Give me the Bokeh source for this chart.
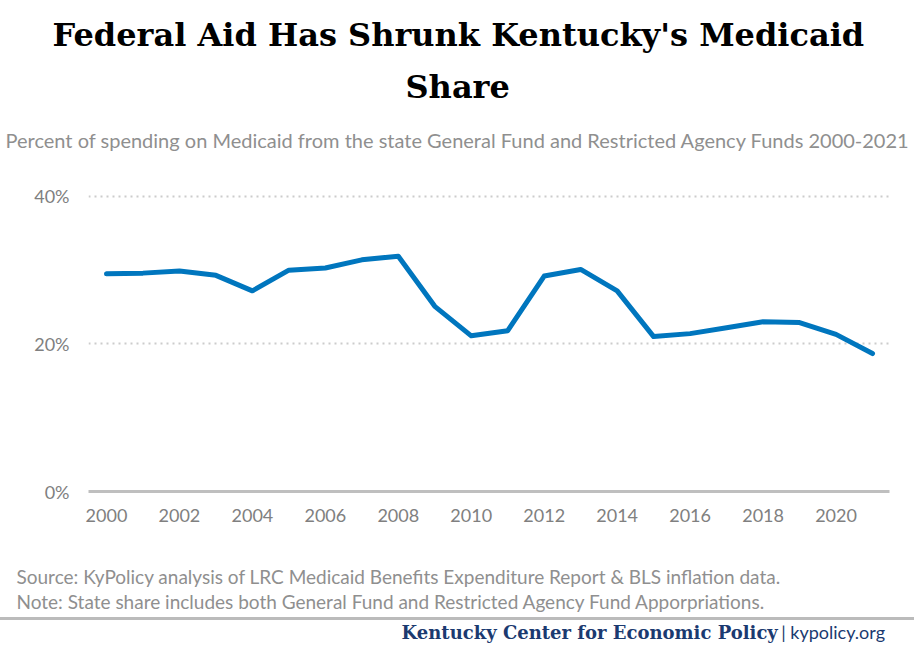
from bokeh.plotting import figure
from bokeh.models import FixedTicker, PrintfTickFormatter, Range1d, Title, Div
from bokeh.layouts import column
from bokeh.embed import file_html
from bokeh.resources import INLINE

# ---- data ----
years = list(range(2000, 2022))
share = [29.5, 29.6, 29.9, 29.3, 27.2, 30.0, 30.3, 31.4, 31.9, 25.1, 21.1,
         21.8, 29.2, 30.1, 27.2, 21.0, 21.4, 22.2, 23.0, 22.9, 21.3, 18.7]
x_ticks = list(range(2000, 2021, 2))
y_ticks = [0, 20, 40]

title_line1 = "Federal Aid Has Shrunk Kentucky's Medicaid"
title_line2 = "Share"
subtitle = "Percent of spending on Medicaid from the state General Fund and Restricted Agency Funds  2000-2021"
source = "Source: KyPolicy analysis of LRC Medicaid Benefits Expenditure Report & BLS inflation data."
note = "Note: State share includes both General Fund and Restricted Agency Fund Apporpriations."
org = "Kentucky Center for Economic Policy"
site = "| kypolicy.org"

W, H_MAIN, H_FOOT = 914, 617, 42
LEFT, RIGHT, TOP, BOTTOM = 88, 25, 162, 126
X0, X1 = 1999.507, 2021.466
Y0, Y1 = 0, 44.46

SANS = "Lato"
SERIF = "DejaVu Serif"
GREY = "#8f8f8f"

p = figure(width=W, height=H_MAIN, output_backend="svg", toolbar_location=None,
           x_range=Range1d(X0, X1), y_range=Range1d(Y0, Y1),
           min_border_left=LEFT, min_border_right=RIGHT,
           min_border_top=TOP, min_border_bottom=BOTTOM)
p.outline_line_color = None
p.title.text = ""
p.title.standoff = 0

p.line(years, share, line_color="#0076BE", line_width=5, line_join="round", line_cap="round")

# axes
p.xaxis.ticker = FixedTicker(ticks=x_ticks)
p.yaxis.ticker = FixedTicker(ticks=y_ticks)
p.yaxis.formatter = PrintfTickFormatter(format="%d%%")
for ax in (p.xaxis, p.yaxis):
    ax.major_tick_line_color = None
    ax.minor_tick_line_color = None
    ax.major_tick_out = 0
    ax.major_tick_in = 0
    ax.major_label_text_font = SANS
    ax.major_label_text_font_size = "18px"
    ax.major_label_text_color = "#808080"
p.yaxis.axis_line_color = None
p.yaxis.major_label_standoff = 19
p.xaxis.axis_line_color = "#bfbfbf"
p.xaxis.axis_line_width = 3
p.xaxis.major_label_standoff = 17

p.xgrid.grid_line_color = None
p.ygrid.ticker = FixedTicker(ticks=[20, 40])
p.ygrid.grid_line_color = "#cccccc"
p.ygrid.grid_line_width = 2
p.ygrid.grid_line_dash = "2 4"


def title(text, left_px, font, size, color, style, standoff):
    return Title(text=text, align="left", offset=left_px - LEFT, text_font=font,
                 text_font_size=size, text_font_style=style, text_color=color,
                 standoff=standoff)


# above: first added sits nearest the frame
p.add_layout(title(subtitle, 5, SANS, "20px", GREY, "normal", 24), "above")
p.add_layout(title(title_line2, 405, SERIF, "32px", "#000000", "bold", 15), "above")
p.add_layout(title(title_line1, 52, SERIF, "32px", "#000000", "bold", 10), "above")
p.add_layout(title(" ", 0, SANS, "5px", "#ffffff", "normal", 0), "above")

# below: after the x axis
p.add_layout(title(" ", 0, SANS, "10px", "#ffffff", "normal", 24), "below")
p.add_layout(title(source, 16, SANS, "19px", GREY, "normal", 0), "below")
p.add_layout(title(note, 16, SANS, "19px", GREY, "normal", 0), "below")

footer = Div(
    text=(f'<span style="font-family:\'DejaVu Serif\';font-weight:bold;font-size:18px;'
          f'color:#1b3a70">{org}</span> '
          f'<span style="font-family:Lato;font-size:18px;color:#1b3a70">{site}</span>'),
    width=W, height=H_FOOT, margin=0,
    styles={"border-top": "3px solid #bbbbbb", "text-align": "right",
            "padding-right": "29px", "padding-top": "0px", "box-sizing": "border-box"})

layout = column(p, footer, spacing=0)
open("out.html", "w").write(file_html(layout, INLINE))
